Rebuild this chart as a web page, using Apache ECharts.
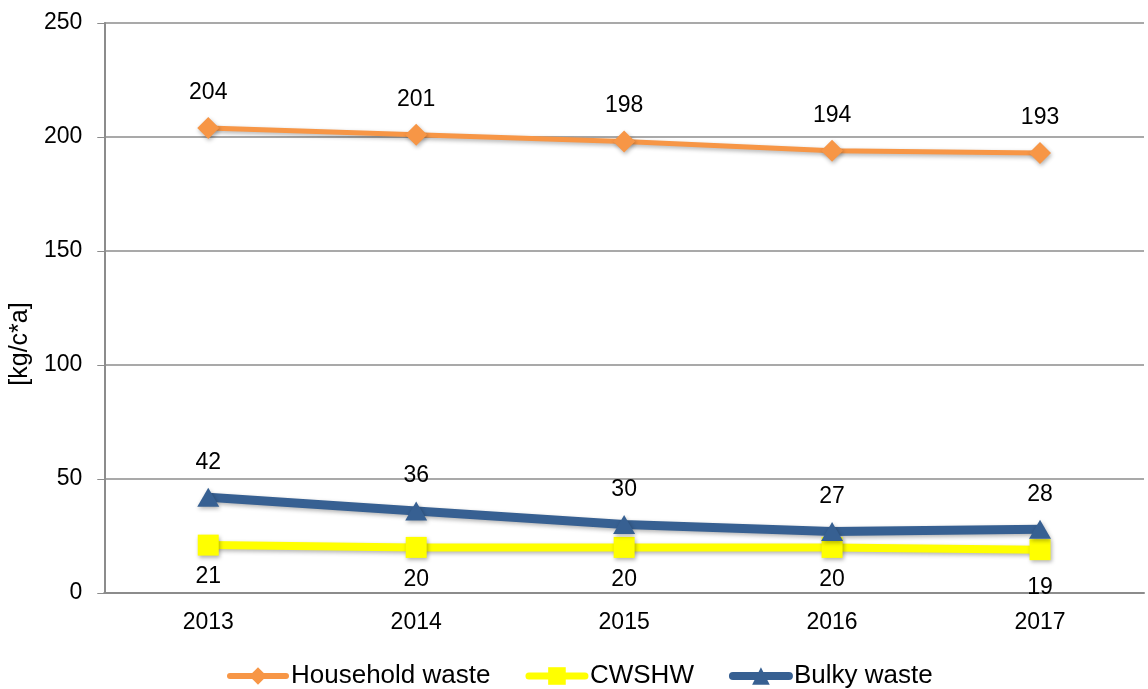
<!DOCTYPE html>
<html>
<head>
<meta charset="utf-8">
<script src="https://cdn.jsdelivr.net/npm/echarts@6/dist/echarts.min.js"></script>
<style>
  html, body { margin: 0; padding: 0; background: #fff; }
  #chart { width: 1148px; height: 689px; }
</style>
</head>
<body>
<div id="chart"></div>
<script>
// data
const years = ['2013', '2014', '2015', '2016', '2017'];
const household = [204, 201, 198, 194, 193];
const cwshw = [21, 20, 20, 20, 19];
const bulky = [42, 36, 30, 27, 28];
const yTicks = [0, 50, 100, 150, 200, 250];

const chart = echarts.init(document.getElementById('chart'));
const font = 'Liberation Sans, Arial, sans-serif';
const shadow = { shadowColor: 'rgba(0,0,0,0.3)', shadowBlur: 4, shadowOffsetX: 1, shadowOffsetY: 2 };

const orange = '#F79646', yellow = '#FFFF00', blue = '#376092';

// last CWSHW label sits a little lower in the original
const cwshwData = cwshw.map((v, i) => i === cwshw.length - 1 ? { value: v, label: { distance: 16 } } : v);

const option = {
  animation: false,
  textStyle: { fontFamily: font },
  grid: { left: 104, right: 4, top: 23, bottom: 96 },
  legend: {
    top: 658,
    left: 222,
    itemWidth: 56,
    itemHeight: 22,
    itemGap: 35,
    textStyle: { fontSize: 26, color: '#000', fontFamily: font },
    data: [
      { name: 'Household waste', lineStyle: { width: 6, color: orange, cap: 'round' } },
      { name: 'CWSHW', lineStyle: { width: 7, color: yellow, cap: 'round' } },
      { name: 'Bulky waste', lineStyle: { width: 8, color: blue, cap: 'round' } }
    ]
  },
  xAxis: {
    type: 'category',
    data: years,
    boundaryGap: true,
    axisLine: { lineStyle: { color: '#8c8c8c', width: 2 } },
    axisTick: { alignWithLabel: true, length: 6, lineStyle: { color: '#8c8c8c' } },
    axisLabel: { fontSize: 23, color: '#000', margin: 18 }
  },
  yAxis: {
    type: 'value',
    min: yTicks[0],
    max: yTicks[yTicks.length - 1],
    interval: 50,
    name: '[kg/c*a]',
    nameLocation: 'middle',
    nameGap: 68,
    nameTextStyle: { fontSize: 25, color: '#000', padding: [0, 72, 0, 0] },
    axisLine: { show: true, lineStyle: { color: '#8c8c8c', width: 2 } },
    axisTick: { show: true, length: 7, lineStyle: { color: '#8c8c8c' } },
    axisLabel: { fontSize: 23, color: '#000', margin: 22 },
    splitLine: { lineStyle: { color: '#8c8c8c', width: 1.5 } }
  },
  series: [
    {
      name: 'Household waste',
      type: 'line',
      data: household,
      symbol: 'diamond',
      symbolSize: 22,
      lineStyle: Object.assign({ color: orange, width: 5 }, shadow),
      itemStyle: Object.assign({ color: orange }, shadow),
      label: { show: true, position: 'top', distance: 13, fontSize: 23, color: '#000' }
    },
    {
      name: 'CWSHW',
      type: 'line',
      data: cwshwData,
      symbol: 'rect',
      symbolSize: 21,
      lineStyle: Object.assign({ color: yellow, width: 8 }, shadow),
      itemStyle: Object.assign({ color: yellow }, shadow),
      label: { show: true, position: 'bottom', distance: 10, fontSize: 23, color: '#000' }
    },
    {
      name: 'Bulky waste',
      type: 'line',
      data: bulky,
      symbol: 'triangle',
      symbolSize: [22, 19],
      lineStyle: Object.assign({ color: blue, width: 9 }, shadow),
      itemStyle: Object.assign({ color: blue }, shadow),
      label: { show: true, position: 'top', distance: 14, fontSize: 23, color: '#000' }
    }
  ]
};

chart.setOption(option);
</script>
</body>
</html>
